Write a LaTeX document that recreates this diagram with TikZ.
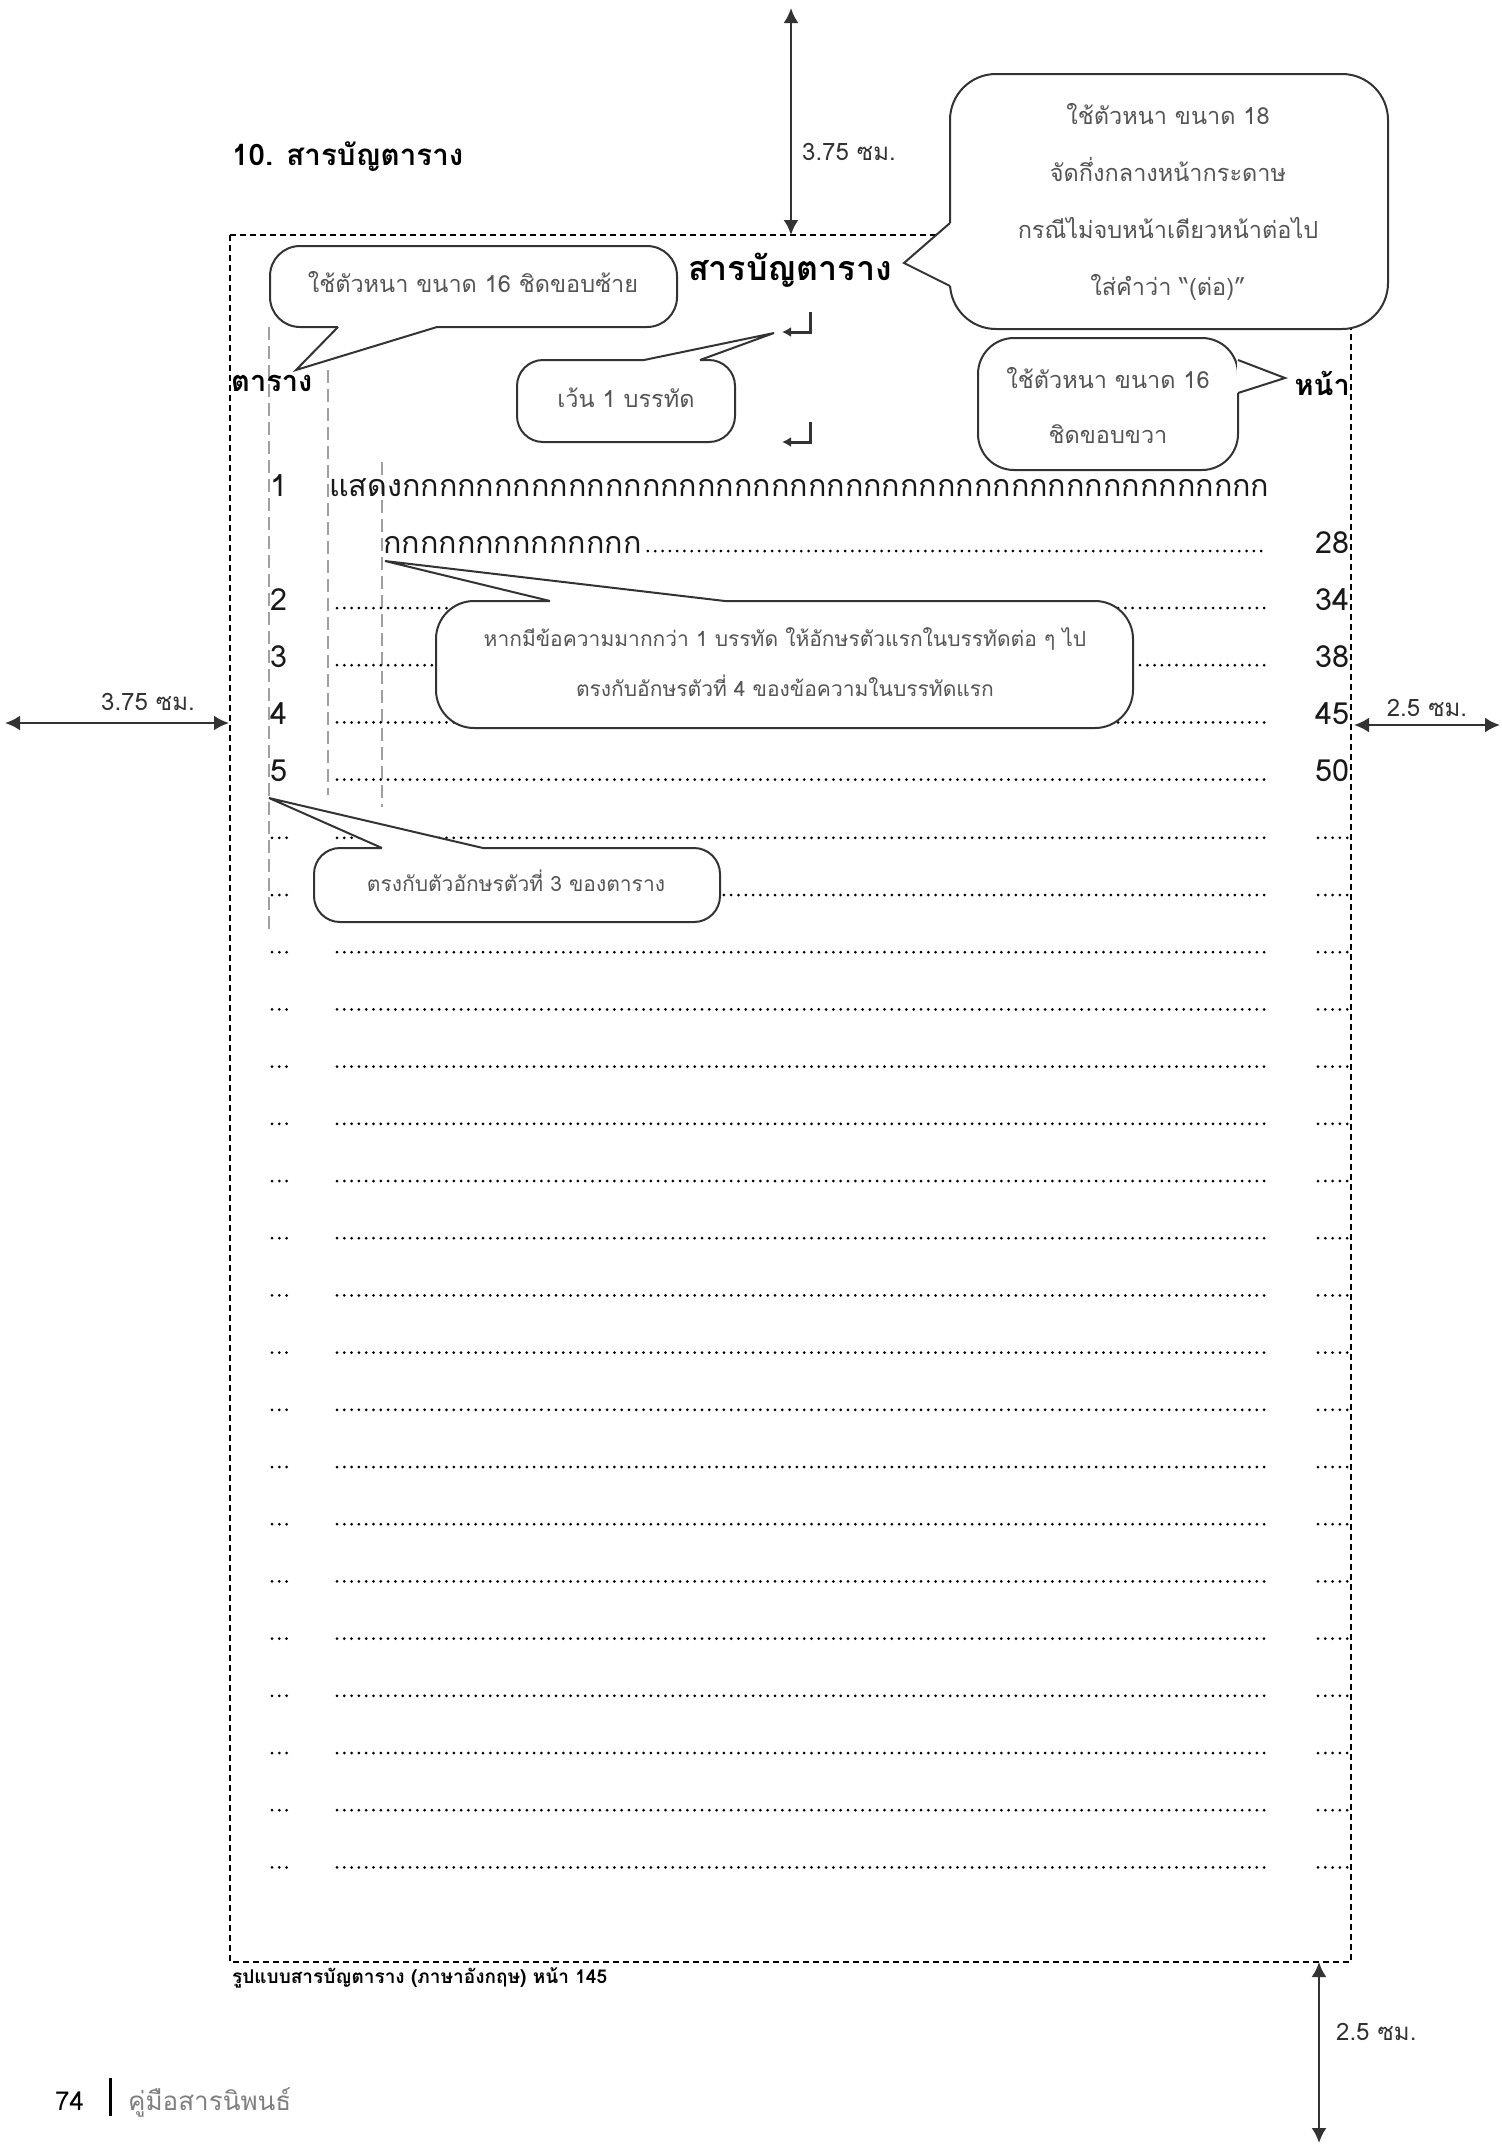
\documentclass[tikz,border=0pt]{standalone}
\usepackage{fontspec}
\usetikzlibrary{arrows.meta}
\newfontfamily\thaifont[Script=Thai]{Loma}
\definecolor{notegray}{HTML}{555555}
\definecolor{linegray}{HTML}{333333}
\definecolor{guidegray}{HTML}{A0A0A0}
\definecolor{footgray}{HTML}{808080}
\newcommand{\pointer}[3]{%
  \fill[white] #1 -- #2 -- #3 -- cycle;
  \draw[white, line width=3pt] #1 -- #3;
  \draw[callout] #1 -- #2 -- #3;}

\begin{document}
\begin{tikzpicture}[x=1pt,y=-1pt,
    every node/.style={inner sep=0pt, font=\thaifont},
    rowtext/.style={text=black!90, font=\thaifont\fontsize{30.5}{34}\selectfont},
    note/.style={text=notegray, align=center, font=\thaifont\fontsize{23.5}{#1}\selectfont},
    note/.default=28,
    smallnote/.style={text=notegray, align=center, font=\thaifont\fontsize{21}{#1}\selectfont},
    smallnote/.default=26,
    boldtext/.style={font=\thaifont\bfseries\fontsize{#1}{#1}\selectfont},
    dimtext/.style={text=linegray, font=\thaifont\fontsize{24}{28}\selectfont},
    callout/.style={draw=linegray, line width=2pt, line join=miter},
    box/.style={callout, fill=white},
    frame/.style={dash pattern=on 6pt off 4pt, line width=2pt},
    guide/.style={guidegray, dash pattern=on 13pt off 6pt, line width=1.5pt},
    dotrow/.style={line width=3pt, line cap=round, dash pattern=on 0pt off 7.3pt},
    dim/.style={{Latex[length=15pt,width=15pt]}-{Latex[length=15pt,width=15pt]}, linegray, line width=2.5pt},
    ret/.style={-{Latex[length=9pt,width=10pt]}, linegray, line width=3pt}]
\useasboundingbox (0,0) rectangle (1502,2145);

\draw[frame] (230,235) rectangle (1351,1962);
\draw[guide] (269,327) -- (269,934);
\draw[guide] (328,370) -- (328,795);
\draw[guide] (382,462) -- (382,807);

\node[boldtext=29.5, anchor=west] (title) at (232,157) {10. สารบัญตาราง};
\node[boldtext=34] (head) at (790,270) {สารบัญตาราง};
\node[boldtext=29, anchor=west] (coltab) at (231,383) {ตาราง};
\node[boldtext=29, anchor=east] (colpage) at (1350,383) {หน้า};

\draw[ret] (810,312) -- (810,332) -- (782,332);
\draw[ret] (810,422) -- (810,442) -- (782,442);

\node[rowtext, anchor=base west] (n1) at (270,496) {1};
\node[rowtext, anchor=base west] (t1) at (329,496) {แสดงกกกกกกกกกกกกกกกกกกกกกกกกกกกกกกกกกกกกกกกกกกกกกกก};
\node[rowtext, anchor=base west] (t1b) at (383,553) {กกกกกกกกกกกกกก};
\node[rowtext, anchor=base east] (p1) at (1350,553) {28};
\draw[dotrow] ([xshift=6pt]t1b.base east) ++(0,-2) -- (1266,551);
\foreach \n/\p [count=\k from 0] in {2/34,3/38,4/45,5/50} {
  \pgfmathsetmacro\yy{610+57.2*\k}
  \node[rowtext, anchor=base west] (n\n) at (270,\yy) {\n};
  \node[rowtext, anchor=base east] (p\n) at (1350,\yy) {\p};
  \draw[dotrow] (337,\yy-2) -- (1266,\yy-2);
}
\foreach \k in {0,...,18} {
  \pgfmathsetmacro\yy{837.8+57.2*\k}
  \draw[dotrow] (272,\yy) -- (287,\yy);
  \draw[dotrow] (337,\yy) -- (1266,\yy);
  \draw[dotrow] (1318,\yy) -- (1348,\yy);
}

\draw[dim] (791,8) -- (791,235);
\node[dimtext, anchor=west] (dimtop) at (802,152) {3.75 ซม.};
\draw[dim] (5,723) -- (229,723);
\node[dimtext] (dimleft) at (148,702) {3.75 ซม.};
\draw[dim] (1354,725) -- (1500,725);
\node[dimtext] (dimright) at (1427,708) {2.5 ซม.};
\draw[dim] (1319,1962) -- (1319,2143);
\node[dimtext, anchor=west] (dimbottom) at (1336,2032) {2.5 ซม.};

\draw[box, rounded corners=46] (950,74) rectangle (1388,329);
\pointer{(950,286)}{(904,263)}{(950,223)}
\node[note=57] (notehead) at (1168,202) {ใช้ตัวหนา ขนาด 18\\จัดกึ่งกลางหน้ากระดาษ\\กรณีไม่จบหน้าเดียวหน้าต่อไป\\ใส่คำว่า “(ต่อ)”};

\draw[box, rounded corners=30] (270,246) rectangle (677,327);
\pointer{(338,327)}{(296,370)}{(437,327)}
\node[note] (noteleft) at (473,282) {ใช้ตัวหนา ขนาด 16 ชิดขอบซ้าย};

\draw[box, rounded corners=26] (517,360) rectangle (735,442);
\pointer{(644,360)}{(774,333)}{(700,360)}
\node[note] (noteline) at (626,398) {เว้น 1 บรรทัด};

\draw[box, rounded corners=36] (978,338) rectangle (1238,470);
\pointer{(1238,360)}{(1285,378)}{(1238,393)}
\node[note=55] (noteright) at (1108,405) {ใช้ตัวหนา ขนาด 16\\ชิดขอบขวา};

\draw[box, rounded corners=38] (436,601) rectangle (1133,728);
\pointer{(550,601)}{(385,561)}{(725,601)}
\node[smallnote=50] (notewrap) at (785,662) {หากมีข้อความมากกว่า 1 บรรทัด ให้อักษรตัวแรกในบรรทัดต่อ ๆ ไป\\ตรงกับอักษรตัวที่ 4 ของข้อความในบรรทัดแรก};

\draw[box, rounded corners=26] (314,848) rectangle (720,922);
\pointer{(382,848)}{(269,798)}{(483,848)}
\node[smallnote] (notethird) at (516,881) {ตรงกับตัวอักษรตัวที่ 3 ของตาราง};

\node[boldtext=19, anchor=west] (caption) at (232,1978) {รูปแบบสารบัญตาราง (ภาษาอังกฤษ) หน้า 145};
\node[font=\thaifont\fontsize{26}{30}\selectfont, anchor=base west] (pagenum) at (55,2110) {74};
\draw[line width=3pt] (110,2078) -- (110,2116);
\node[font=\thaifont\fontsize{26}{30}\selectfont, text=footgray, anchor=base west] (booktitle) at (128,2110) {คู่มือสารนิพนธ์};
\end{tikzpicture}
\end{document}
